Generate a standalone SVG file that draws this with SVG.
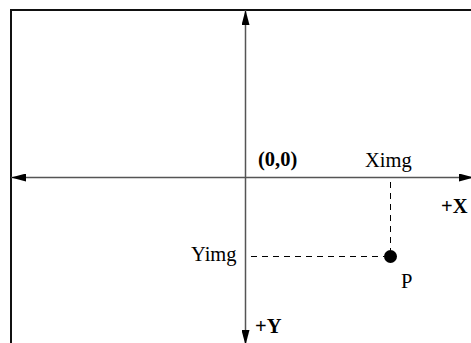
<svg xmlns="http://www.w3.org/2000/svg" width="471" height="343" viewBox="0 0 471 343">
<style>
text{font-family:"Liberation Serif","Times New Roman",serif;font-size:20.5px;fill:#000}
.b{font-weight:bold}
.axis{stroke:#555;stroke-width:1.5;fill:none}
.dash{stroke:#000;stroke-width:1;stroke-dasharray:6 5;fill:none}
</style>
<defs>
<marker id="ah" viewBox="0 0 15 8" refX="15" refY="4" markerWidth="15" markerHeight="8" markerUnits="userSpaceOnUse" orient="auto-start-reverse">
<path d="M0,0 L15,4 L0,8 z" fill="#000"/>
</marker>
</defs>
<rect x="0" y="0" width="471" height="343" fill="#fff"/>
<g id="frame"><path d="M11,343 V10 H471" fill="none" stroke="#111" stroke-width="2"/></g>
<g id="connectors">
<line class="axis" x1="11" y1="177.5" x2="474" y2="177.5" marker-start="url(#ah)" marker-end="url(#ah)"/>
<line class="axis" x1="245.5" y1="10" x2="245.5" y2="345" marker-start="url(#ah)" marker-end="url(#ah)"/>
<line class="dash" x1="390.5" y1="182" x2="390.5" y2="250"/>
<line class="dash" x1="251" y1="256.5" x2="384" y2="256.5"/>
</g>
<g id="origin"><text class="b" x="258" y="166">(0,0)</text></g>
<g id="ximg"><text x="365" y="167">Ximg</text></g>
<g id="xaxis-label"><text class="b" x="441" y="213">+X</text></g>
<g id="yimg"><text x="191" y="261">Yimg</text></g>
<g id="point-p"><circle cx="390.5" cy="256.5" r="6.5" fill="#000"/><text x="401" y="288">P</text></g>
<g id="yaxis-label"><text class="b" x="255" y="333">+Y</text></g>
</svg>
